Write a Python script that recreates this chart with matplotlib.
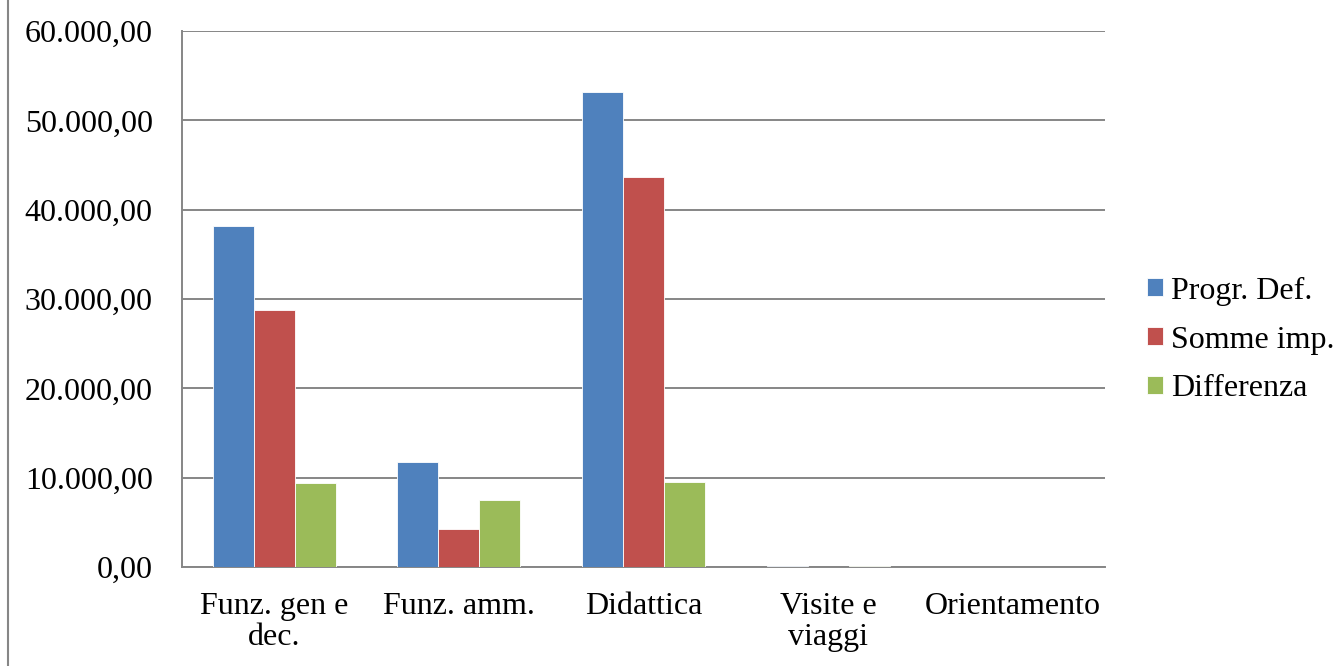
import numpy as np
import matplotlib
matplotlib.use("Agg")
import matplotlib.pyplot as plt
from matplotlib.ticker import FuncFormatter
from matplotlib.lines import Line2D

# dati
categorie = ["Funz. gen e\ndec.", "Funz. amm.", "Didattica", "Visite e\nviaggi", "Orientamento"]
progr_def = [38200, 11750, 53200, 120, 0]
somme_imp = [28750, 4250, 43650, 0, 0]
differenza = [9400, 7500, 9500, 120, 0]
serie = ["Progr. Def.", "Somme imp.", "Differenza"]
colori = ["#4F81BD", "#C0504D", "#9BBB59"]

plt.rcParams['font.family'] = ['Liberation Serif', 'DejaVu Serif']

fig = plt.figure(figsize=(13.36, 6.66), dpi=100)
ax = fig.add_axes([182/1336, 1-567/666, (1105-182)/1336, (567-31)/666])

x = np.arange(len(categorie))
w = 1/4.5
for i, (vals, nome, c) in enumerate(zip([progr_def, somme_imp, differenza], serie, colori)):
    ax.bar(x + (i-1)*w, vals, w, color=c, label=nome, edgecolor='white', linewidth=0.6, zorder=3)

ax.set_xlim(-0.5, len(categorie)-0.5)
ax.set_ylim(0, 60000)
ax.set_yticks(np.arange(0, 60001, 10000))
fmt = lambda v, p: f"{v:,.2f}".replace(",", "X").replace(".", ",").replace("X", ".")
ax.yaxis.set_major_formatter(FuncFormatter(fmt))
ax.set_xticks(x)
ax.set_xticklabels(categorie, linespacing=1.1)
ax.tick_params(axis='both', length=0, labelsize=23)
ax.tick_params(axis='y', pad=21)
ax.tick_params(axis='x', pad=18)
ax.grid(axis='y', color='#868686', linewidth=1.4, zorder=0)
for s in ['top', 'right']:
    ax.spines[s].set_visible(False)
for s in ['left', 'bottom']:
    ax.spines[s].set_color('#868686')
    ax.spines[s].set_linewidth(1.4)

leg = fig.legend(loc='center left', bbox_to_anchor=(1134/1336, 1-340/666), frameon=False,
                 fontsize=23, handlelength=0.5, handleheight=0.5, handletextpad=0.25,
                 labelspacing=0.62, borderaxespad=0)

# bordo a sinistra dell'area del grafico
fig.add_artist(Line2D([8/1336, 8/1336], [0, 1], color='#868686', linewidth=1.5))

fig.savefig("out.png", dpi=100)
